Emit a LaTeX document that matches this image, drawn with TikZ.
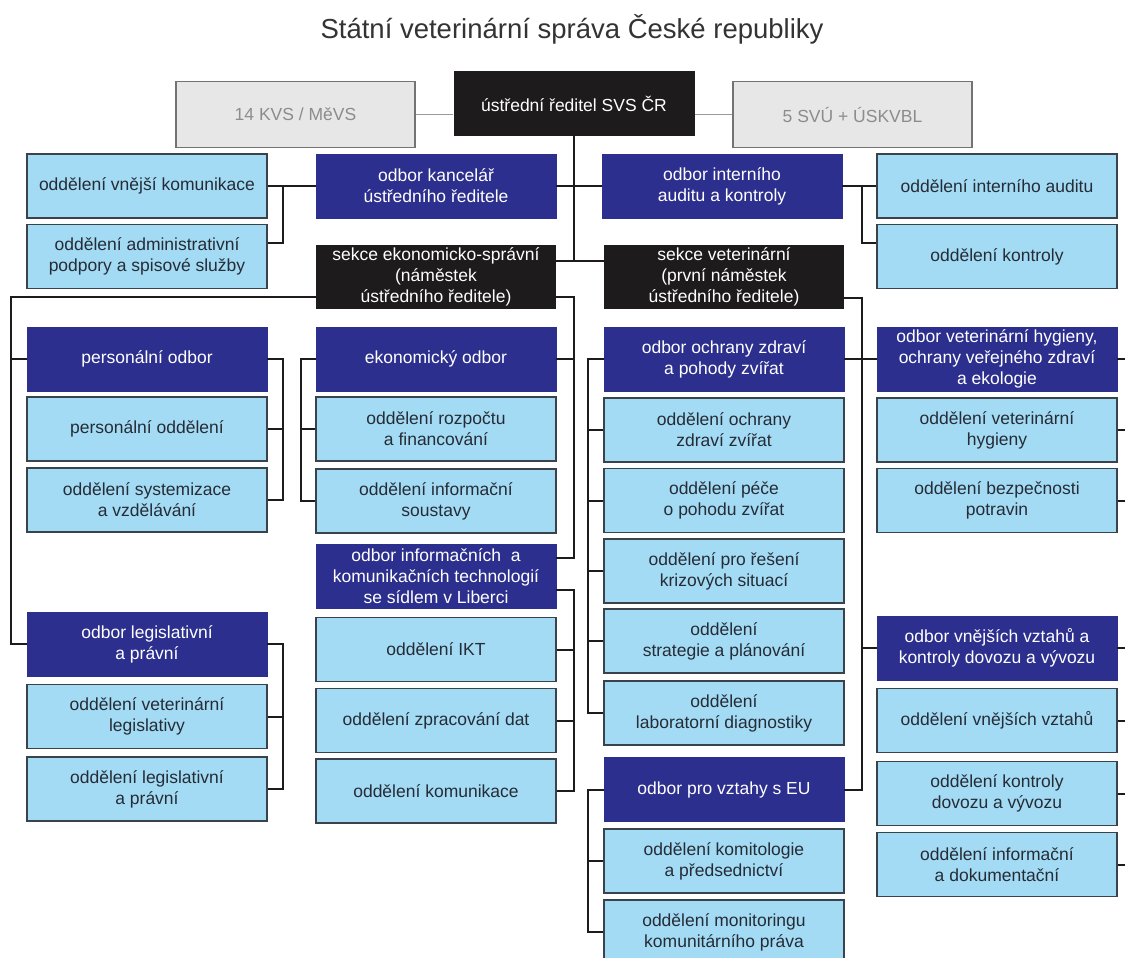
\documentclass[tikz,border=0pt]{standalone}
\usepackage{fontspec}
\setmainfont{Liberation Sans}
\usetikzlibrary{calc}
\definecolor{svsblue}{RGB}{44,47,142}
\definecolor{svslight}{RGB}{163,219,244}
\definecolor{svsblack}{RGB}{30,27,28}
\definecolor{svsgrey}{RGB}{231,231,231}
\definecolor{svsedge}{RGB}{58,66,76}
\definecolor{svstext}{RGB}{38,44,54}
\tikzset{
  orgbox/.style={rectangle, minimum width=240pt, minimum height=64pt, inner sep=1pt,
    align=center, font=\fontsize{17.5}{21}\selectfont},
  odbor/.style={orgbox, fill=svsblue, draw=svsblue, text=white},
  oddeleni/.style={orgbox, fill=svslight, draw=svsedge, line width=1.2pt, text=svstext},
  sekce/.style={orgbox, fill=svsblack, text=white},
  ustav/.style={orgbox, fill=svsgrey, draw=black!55, line width=1.5pt, text=black!45,
    minimum width=239pt, minimum height=66pt},
  link/.style={line width=2pt, draw=svsblack},
  greylink/.style={line width=1.5pt, draw=black!40},
}

\begin{document}
\begin{tikzpicture}[x=1pt, y=-1pt]
		\fill[white] (0,0) rectangle (1125,958);
		\useasboundingbox (0,0) rectangle (1125,958);

		% Define nodes
		\node[font=\fontsize{27.5}{32}\selectfont, text=black!80, anchor=base] (title) at (572,39) {Státní veterinární správa České republiky};

		\node[ustav] (greyL) at (295.5,114.5) {14 KVS / MěVS};
		\node[sekce, minimum width=241pt, minimum height=65pt] (redit) at (574,103.5) {ústřední ředitel SVS ČR};
		\node[ustav] (greyR) at (852.5,114.5) {5 SVÚ + ÚSKVBL};

		\node[oddeleni] (vnej) at (147,186) {oddělení vnější komunikace};
		\node[oddeleni] (admin) at (147,256.5) {oddělení administrativní\\podpory a spisové služby};
		\node[odbor] (kanc) at (436,186) {odbor kancelář\\ústředního ředitele};
		\node[odbor] (audit) at (722,186) {odbor interního\\auditu a kontroly};
		\node[oddeleni] (intaud) at (997,186) {oddělení interního auditu};
		\node[oddeleni] (kontr) at (997,256.5) {oddělení kontroly};

		\node[sekce] (sekEk) at (436,277) {sekce ekonomicko-správní\\(náměstek\\ústředního ředitele)};
		\node[sekce] (sekVet) at (724,277) {sekce veterinární\\(první náměstek\\ústředního ředitele)};

		\node[odbor] (persOdb) at (147,359) {personální odbor};
		\node[oddeleni] (persOdd) at (147,429) {personální oddělení};
		\node[oddeleni] (system) at (147,500) {oddělení systemizace\\a vzdělávání};
		\node[odbor] (legOdb) at (147,644) {odbor legislativní\\a právní};
		\node[oddeleni] (vetLeg) at (147,716.5) {oddělení veterinární\\legislativy};
		\node[oddeleni] (legOdd) at (147,789) {oddělení legislativní\\a právní};

		\node[odbor] (ekon) at (436,359) {ekonomický odbor};
		\node[oddeleni] (rozp) at (436,429) {oddělení rozpočtu\\a financování};
		\node[oddeleni] (infSoust) at (436,501) {oddělení informační\\soustavy};
		\node[odbor] (odbIKT) at (436,576.5) {odbor informačních~ a\\komunikačních technologií\\se sídlem v Liberci};
		\node[oddeleni] (ikt) at (436,649.5) {oddělení IKT};
		\node[oddeleni] (zprac) at (436,720.5) {oddělení zpracování dat};
		\node[oddeleni] (komun) at (436,791) {oddělení komunikace};

		\node[odbor] (ochr) at (724,359) {odbor ochrany zdraví\\a pohody zvířat};
		\node[oddeleni] (ochrOdd) at (724,430) {oddělení ochrany\\zdraví zvířat};
		\node[oddeleni] (pece) at (724,500.5) {oddělení péče\\o pohodu zvířat};
		\node[oddeleni] (kriz) at (724,571) {oddělení pro řešení\\krizových situací};
		\node[oddeleni] (strat) at (724,641) {oddělení\\strategie a plánování};
		\node[oddeleni] (lab) at (724,713) {oddělení\\laboratorní diagnostiky};
		\node[odbor] (eu) at (724,789.5) {odbor pro vztahy s EU};
		\node[oddeleni] (komit) at (724,861) {oddělení komitologie\\a předsednictví};
		\node[oddeleni] (monit) at (724,932) {oddělení monitoringu\\komunitárního práva};

		\node[odbor] (vetHyg) at (997,359) {odbor veterinární hygieny,\\ochrany veřejného zdraví\\a ekologie};
		\node[oddeleni] (vetHygOdd) at (997,430) {oddělení veterinární\\hygieny};
		\node[oddeleni] (bezp) at (997,500.5) {oddělení bezpečnosti\\potravin};
		\node[odbor] (vnejOdb) at (997,648) {odbor vnějších vztahů a\\kontroly dovozu a vývozu};
		\node[oddeleni] (vnejOdd) at (997,720.5) {oddělení vnějších vztahů};
		\node[oddeleni] (dovoz) at (997,793.5) {oddělení kontroly\\dovozu a vývozu};
		\node[oddeleni] (infDok) at (997,864.5) {oddělení informační\\a dokumentační};

		% Bus lines and joints
		\coordinate (busLx) at (11,0);
		\coordinate (busAx) at (283,0);
		\coordinate (busB2x) at (301,0);
		\coordinate (busBx) at (574,0);
		\coordinate (busC2x) at (588,0);
		\coordinate (busCx) at (862,0);
		\coordinate (edgeDx) at (1125,0);
		\coordinate (joint) at (574,261);
		\coordinate (adminIn) at ($(admin.north east)!.29!(admin.south east)$);
		\coordinate (kontrIn) at ($(kontr.north west)!.29!(kontr.south west)$);
		\coordinate (sekEkL) at ($(sekEk.north west)!.81!(sekEk.south west)$);
		\coordinate (sekEkR) at ($(sekEk.north east)!.81!(sekEk.south east)$);
		\coordinate (sekVetR) at ($(sekVet.north east)!.83!(sekVet.south east)$);
		\coordinate (ictIn) at ($(odbIKT.north east)!.21!(odbIKT.south east)$);
		\coordinate (ictOut) at ($(odbIKT.north east)!.71!(odbIKT.south east)$);

		% Connect the nodes
		\draw[greylink] (greyL.east) -- (greyL.east -| redit.west);
		\draw[greylink] (redit.east |- greyR.west) -- (greyR.west);
		\draw[link] (redit.south) -- (joint);
		\draw[link] (sekEk.east |- joint) -- (sekVet.west |- joint);
		\draw[link] (kanc.east) -- (audit.west);
		\draw[link] (kanc.west) -- (vnej.east);
		\draw[link] (vnej.east -| busAx) |- (adminIn);
		\draw[link] (audit.east) -- (intaud.west);
		\draw[link] (audit.east -| busCx) |- (kontrIn);

		% sekce ekonomicko-spravni
		\draw[link] (sekEkL) -| (legOdb.west -| busLx) -- (legOdb.west);
		\draw[link] (persOdb.west) -- (persOdb.west -| busLx);
		\draw[link] (persOdb.east) -| (system.east -| busAx) -- (system.east);
		\draw[link] (persOdd.east) -- (persOdd.east -| busAx);
		\draw[link] (legOdb.east) -| (legOdd.east -| busAx) -- (legOdd.east);
		\draw[link] (vetLeg.east) -- (vetLeg.east -| busAx);
		\draw[link] (sekEkR) -| (ictIn -| busBx) -- (ictIn);
		\draw[link] (ekon.east) -- (ekon.east -| busBx);
		\draw[link] (ekon.west) -| (infSoust.west -| busB2x) -- (infSoust.west);
		\draw[link] (rozp.west) -- (rozp.west -| busB2x);
		\draw[link] (ictOut) -| (komun.east -| busBx) -- (komun.east);
		\draw[link] (ikt.east) -- (ikt.east -| busBx);
		\draw[link] (zprac.east) -- (zprac.east -| busBx);

		% sekce veterinarni
		\draw[link] (sekVetR) -| (eu.east -| busCx) -- (eu.east);
		\draw[link] (ochr.east) -- (vetHyg.west);
		\draw[link] (vnejOdb.west) -- (vnejOdb.west -| busCx);
		\draw[link] (ochr.west) -| (lab.west -| busC2x) -- (lab.west);
		\draw[link] (ochrOdd.west) -- (ochrOdd.west -| busC2x);
		\draw[link] (pece.west) -- (pece.west -| busC2x);
		\draw[link] (kriz.west) -- (kriz.west -| busC2x);
		\draw[link] (strat.west) -- (strat.west -| busC2x);
		\draw[link] (eu.west) -| (monit.west -| busC2x) -- (monit.west);
		\draw[link] (komit.west) -- (komit.west -| busC2x);

		% stubs at the right margin
		\draw[link] (vetHyg.east) -- (vetHyg.east -| edgeDx);
		\draw[link] (vetHygOdd.east) -- (vetHygOdd.east -| edgeDx);
		\draw[link] (bezp.east) -- (bezp.east -| edgeDx);
		\draw[link] (vnejOdb.east) -- (vnejOdb.east -| edgeDx);
		\draw[link] (vnejOdd.east) -- (vnejOdd.east -| edgeDx);
		\draw[link] (dovoz.east) -- (dovoz.east -| edgeDx);
		\draw[link] (infDok.east) -- (infDok.east -| edgeDx);
\end{tikzpicture}
\end{document}
